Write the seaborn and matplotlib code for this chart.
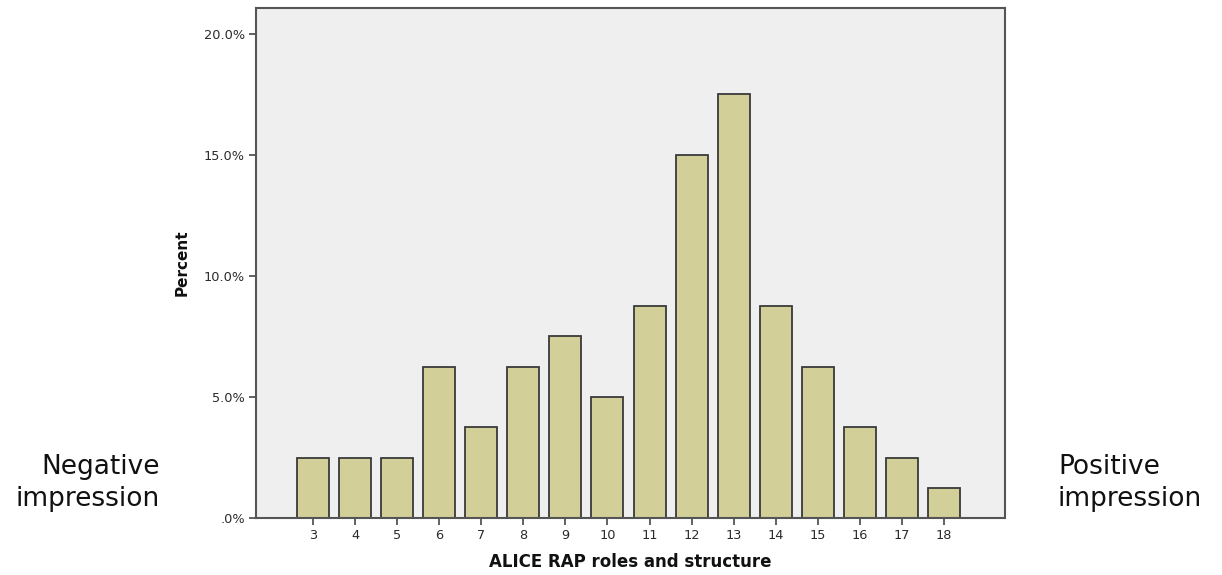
import matplotlib
matplotlib.use("Agg")
import matplotlib.pyplot as plt
import seaborn as sns
import pandas as pd
from matplotlib.ticker import FuncFormatter

scores = [3, 4, 5, 6, 7, 8, 9, 10, 11, 12, 13, 14, 15, 16, 17, 18]
percent = [2.5, 2.5, 2.5, 6.25, 3.75, 6.25, 7.5, 5.0, 8.75, 15.0, 17.5, 8.75, 6.25, 3.75, 2.5, 1.25]
y_ticks = [0, 5, 10, 15, 20]

sns.set_theme(style="white")
plt.rcParams['font.family'] = ['DejaVu Sans']

df = pd.DataFrame({"score": [str(s) for s in scores], "pct": percent})

fig = plt.figure(figsize=(12.22, 5.75), dpi=100)
ax = fig.add_axes([0.2095, 0.0991, 0.6129, 0.8869])
ax.set_facecolor("#efefef")

sns.barplot(data=df, x="score", y="pct", ax=ax, color="#d3cf98", saturation=1,
            width=0.76, edgecolor="#3a3a3a", linewidth=1.3)

ax.set_xlim(-1.355, 16.45)
ax.set_ylim(0, 21.07)
ax.set_yticks(y_ticks)
ax.yaxis.set_major_formatter(FuncFormatter(lambda v, p: ".0%" if v == 0 else f"{v:.1f}%"))

for s in ax.spines.values():
    s.set_color("#555555")
    s.set_linewidth(1.5)
    s.set_visible(True)

ax.tick_params(axis="both", which="major", direction="out", length=5, width=1.3,
               color="#555555", labelsize=9.3, labelcolor="#2a2a2a", pad=3,
               left=True, bottom=True)

ax.set_xlabel("ALICE RAP roles and structure", fontsize=12, fontweight="bold",
              color="#111111", labelpad=8)
ax.set_ylabel("Percent", fontsize=11, fontweight="bold", color="#111111", labelpad=10)

fig.text(160 / 1222, 1 - 483 / 575, "Negative\nimpression", ha="right", va="center",
         fontsize=19, color="#111111", linespacing=1.25)
fig.text(1058 / 1222, 1 - 483 / 575, "Positive\nimpression", ha="left", va="center",
         fontsize=19, color="#111111", linespacing=1.25)

fig.savefig("out.png", dpi=100)
